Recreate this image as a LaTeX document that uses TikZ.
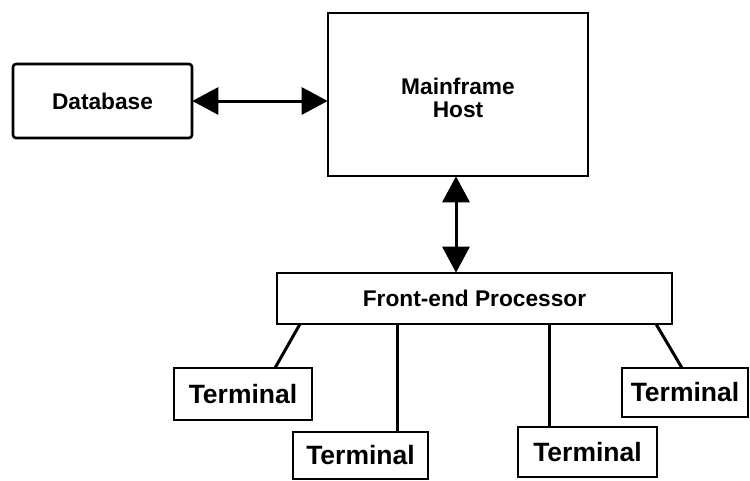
\documentclass[tikz,border=0pt]{standalone}
\usepackage{fontspec}
\setmainfont{Liberation Sans}
\usetikzlibrary{arrows.meta,calc}
\begin{document}
\begin{tikzpicture}[x=1pt,y=-1pt,
  box/.style={draw,line width=2.6pt,inner sep=0pt,font=\bfseries\fontsize{22.7}{25}\selectfont,align=center},
  term/.style={box,font=\bfseries\fontsize{26.5}{28}\selectfont},
  conn/.style={line width=3pt},
  biarrow/.style={conn,{Triangle[length=26pt,width=27pt]}-{Triangle[length=26pt,width=27pt]},shorten <=-1pt,shorten >=-1pt}]
\useasboundingbox (0,0) rectangle (750,480);
\node[box,rounded corners=3pt,minimum width=179pt,minimum height=74pt] (db) at (102.5,101) {Database};
\node[box,minimum width=260pt,minimum height=163pt] (mf) at (458,94.5) {\rule{0pt}{23pt}Mainframe\\[-2pt]Host};
\node[box,minimum width=395pt,minimum height=51pt] (fe) at (474.5,298.5) {Front-end Processor};
\node[term,minimum width=138pt,minimum height=52pt] (t1) at (243,394) {Terminal};
\node[term,minimum width=135pt,minimum height=47pt] (t2) at (360.5,455.5) {Terminal};
\node[term,minimum width=139pt,minimum height=50pt] (t3) at (587.5,452) {Terminal};
\node[term,minimum width=126pt,minimum height=49pt] (t4) at (685,392.5) {Terminal};
\coordinate (vx) at (456,0);
\coordinate (a1) at (300,324);
\coordinate (e1) at (275,368);
\coordinate (b2) at (397,0);
\coordinate (b3) at (549,0);
\coordinate (a4) at (656,324);
\coordinate (e4) at (682,368);
\draw[biarrow] (db.east) -- (db.east -| mf.west);
\draw[biarrow] (mf.south -| vx) -- (fe.north -| vx);
\draw[conn] (a1) -- (e1);
\draw[conn] (fe.south -| b2) -- (t2.north -| b2);
\draw[conn] (fe.south -| b3) -- (t3.north -| b3);
\draw[conn] (a4) -- (e4);
\end{tikzpicture}
\end{document}
